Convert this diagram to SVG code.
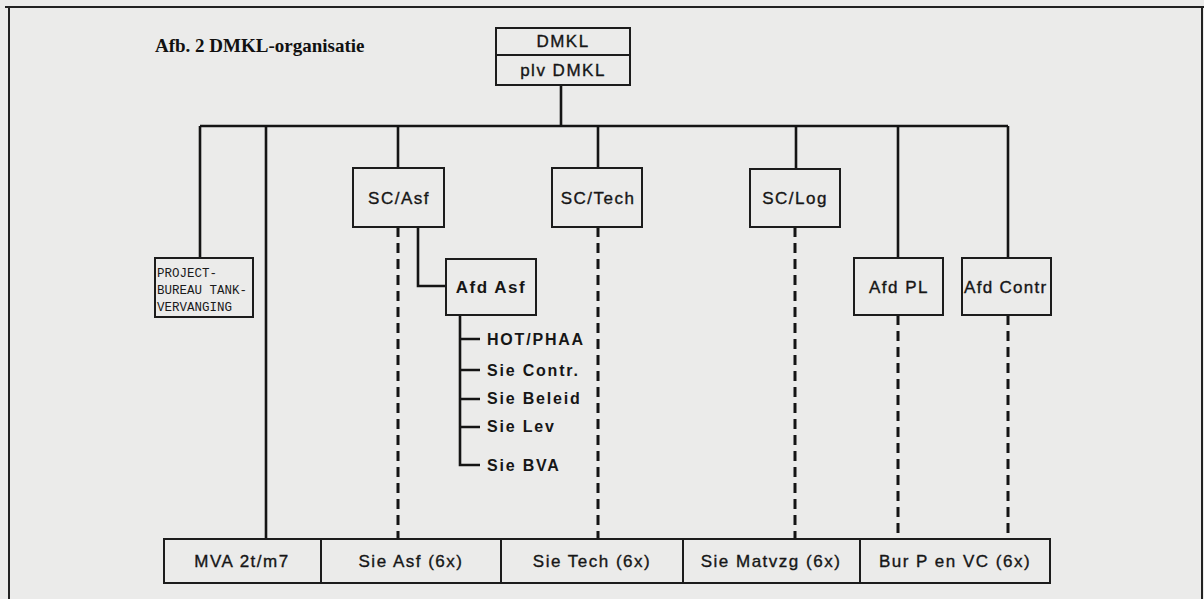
<svg xmlns="http://www.w3.org/2000/svg" width="1204" height="599" viewBox="0 0 1204 599">
<defs>
<style>
.bg{fill:#ebebea}
.box{fill:none;stroke:#1c1c1c;stroke-width:2}
.ln{fill:none;stroke:#141414;stroke-width:2.6}
.dash{fill:none;stroke:#141414;stroke-width:3;stroke-dasharray:10 6}
.frame{fill:none;stroke:#222;stroke-width:2}
.t{font-family:"Liberation Sans",Arial,sans-serif;font-size:17px;fill:#161616;stroke:#161616;stroke-width:0.35;text-anchor:middle;letter-spacing:1.5px}
.ts{font-family:"Liberation Sans",Arial,sans-serif;font-size:17px;fill:#161616;stroke:#161616;stroke-width:0.35;text-anchor:start;letter-spacing:1.3px}
.bold{font-weight:bold;stroke-width:0}
.tb{font-family:"Liberation Sans",Arial,sans-serif;font-size:16px;font-weight:bold;fill:#161616;letter-spacing:1.8px}
.m{font-family:"Liberation Mono",monospace;font-size:12.5px;fill:#1a1a1a}
.title{font-family:"Liberation Serif","Times New Roman",serif;font-size:19px;font-weight:bold;fill:#111}
</style>
</defs>
<rect class="bg" x="0" y="0" width="1204" height="599"/>
<g id="frame">
<path class="frame" d="M5 7 H1204 M9 7 V599 M1202 7 V599"/>
</g>
<text class="title" x="155" y="52">Afb. 2  DMKL-organisatie</text>
<g id="connectors">
<path class="ln" d="M561 85 V126 M200 126 H1008 M200 126 V258 M266 126 V539 M398 126 V168 M598 126 V168 M796 126 V169 M898 126 V258 M1008 126 V258"/>
<path class="ln" d="M418 227 V286 H446"/>
<path class="ln" d="M460 315 V465 H480 M460 339 H480 M460 370 H480 M460 399 H480 M460 427 H480"/>
<path class="dash" d="M398 227 V539 M598 227 V539 M795 227 V539 M898 315 V539 M1008 315 V539"/>
</g>
<g id="dmkl">
<rect class="box" x="496" y="28" width="134" height="57"/>
<line class="box" x1="496" y1="55" x2="630" y2="55"/>
<text class="t" x="563" y="47">DMKL</text>
<text class="t" x="563" y="76">plv DMKL</text>
</g>
<g id="project">
<rect class="box" x="155" y="258" width="98" height="59"/>
<text class="m" x="157" y="277">PROJECT-</text>
<text class="m" x="157" y="294">BUREAU TANK-</text>
<text class="m" x="157" y="311">VERVANGING</text>
</g>
<g id="sc-asf">
<rect class="box" x="353" y="168" width="91" height="59"/>
<text class="t" x="399" y="204">SC/Asf</text>
</g>
<g id="sc-tech">
<rect class="box" x="552" y="168" width="90" height="59"/>
<text class="t" x="598" y="204">SC/Tech</text>
</g>
<g id="sc-log">
<rect class="box" x="750" y="169" width="90" height="58"/>
<text class="t" x="795" y="204">SC/Log</text>
</g>
<g id="afd-asf">
<rect class="box" x="446" y="259" width="90" height="56"/>
<text class="t bold" x="491" y="293">Afd Asf</text>
</g>
<g id="afd-asf-list">
<text class="tb" x="487" y="345">HOT/PHAA</text>
<text class="tb" x="487" y="376">Sie Contr.</text>
<text class="tb" x="487" y="404">Sie Beleid</text>
<text class="tb" x="487" y="432">Sie Lev</text>
<text class="tb" x="487" y="471">Sie BVA</text>
</g>
<g id="afd-pl">
<rect class="box" x="854" y="258" width="89" height="57"/>
<text class="t" x="899" y="293">Afd PL</text>
</g>
<g id="afd-contr">
<rect class="box" x="962" y="258" width="89" height="57"/>
<text class="ts" x="964" y="293">Afd Contr</text>
</g>
<g id="mva">
<rect class="box" x="164" y="539" width="157" height="44"/>
<text class="t" x="242" y="567">MVA 2t/m7</text>
</g>
<g id="sie-asf">
<rect class="box" x="321" y="539" width="180" height="44"/>
<text class="t" x="411" y="567">Sie Asf (6x)</text>
</g>
<g id="sie-tech">
<rect class="box" x="501" y="539" width="182" height="44"/>
<text class="t" x="592" y="567">Sie Tech (6x)</text>
</g>
<g id="sie-matvzg">
<rect class="box" x="683" y="539" width="177" height="44"/>
<text class="t" x="771" y="567">Sie Matvzg (6x)</text>
</g>
<g id="bur-p">
<rect class="box" x="860" y="539" width="190" height="44"/>
<text class="t" x="955" y="567">Bur P en VC (6x)</text>
</g>
</svg>
